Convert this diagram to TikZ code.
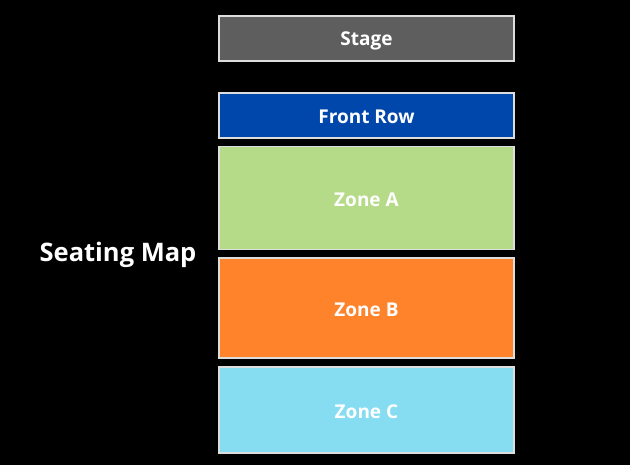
\documentclass[tikz,border=0pt]{standalone}
\usepackage{fontspec}
\setmainfont{Open Sans}
\definecolor{stagec}{HTML}{5E5E5E}
\definecolor{frontc}{HTML}{0047AB}
\definecolor{zonea}{HTML}{B6DB88}
\definecolor{zoneb}{HTML}{FE832B}
\definecolor{zonec}{HTML}{86DCF1}
\definecolor{edgec}{HTML}{DDDDDD}
\begin{document}
\begin{tikzpicture}[x=1pt,y=-1pt,
  zonebox/.style={draw=edgec, line width=1.3pt, minimum width=295pt},
  zonelabel/.style={text=white, font=\bfseries\fontsize{19}{22}\selectfont},
  ]
\fill[black] (0,0) rectangle (630,465);
\useasboundingbox (0,0) rectangle (630,465);
\node[zonebox, fill=stagec, minimum height=45pt] (stage) at (366.5,38.5) {};
\node[zonebox, fill=frontc, minimum height=45pt] (front) at (366.5,115.5) {};
\node[zonebox, fill=zonea, minimum height=103pt] (za) at (366.5,198) {};
\node[zonebox, fill=zoneb, minimum height=100pt] (zb) at (366.5,308) {};
\node[zonebox, fill=zonec, minimum height=86pt] (zc) at (366.5,410) {};
\node[zonelabel] (lstage) at (366.5,40.5) {Stage};
\node[zonelabel] (lfront) at (366.5,117) {Front Row};
\node[zonelabel] (lza) at (366.5,200) {Zone A};
\node[zonelabel] (lzb) at (366.5,310) {Zone B};
\node[zonelabel] (lzc) at (366.5,411.5) {Zone C};
\node[text=white, font=\bfseries\fontsize{25.5}{30}\selectfont] (title) at (118,254.5) {Seating Map};
\end{tikzpicture}
\end{document}
